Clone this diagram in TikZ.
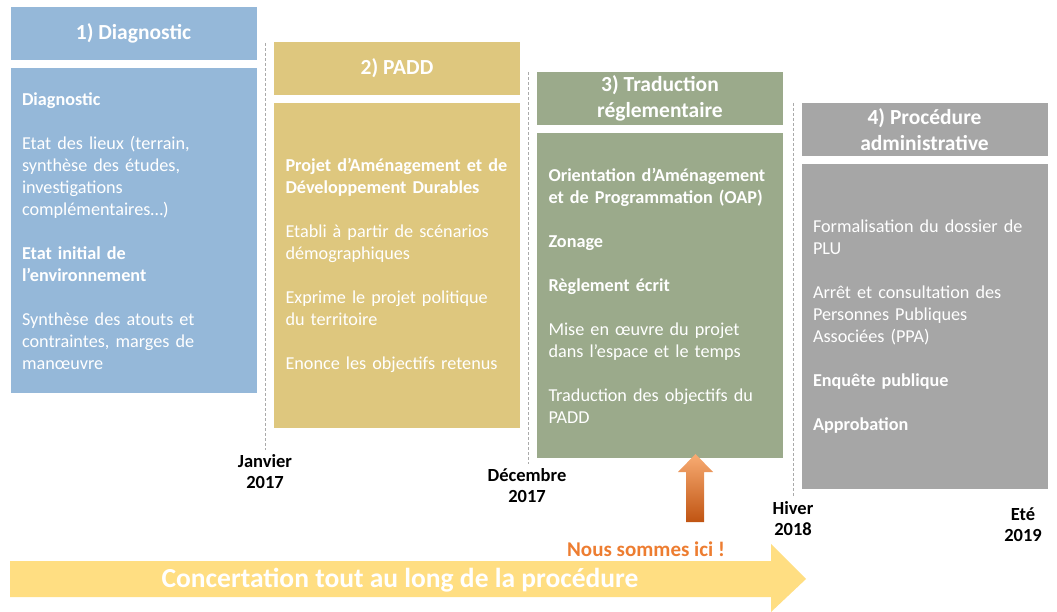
\documentclass[tikz,border=0pt]{standalone}
\usepackage{fontspec}
\setmainfont{Carlito}
\usetikzlibrary{positioning}

\definecolor{diagblue}{RGB}{149,184,217}
\definecolor{paddtan}{RGB}{222,199,126}
\definecolor{tradgreen}{RGB}{155,170,139}
\definecolor{procgray}{RGB}{166,166,166}
\definecolor{concyellow}{RGB}{255,222,130}
\definecolor{icitext}{RGB}{237,125,49}
\definecolor{flechehaut}{RGB}{248,172,115}
\definecolor{flechebas}{RGB}{192,84,18}
\definecolor{tiret}{RGB}{170,170,170}

\tikzset{
  hdr/.style={minimum width=246pt, minimum height=53pt, inner sep=0pt, text=white,
    align=center, font=\fontsize{21.5}{26}\selectfont\bfseries},
  body/.style={minimum width=246pt, minimum height=325pt, inner xsep=11.5pt, inner ysep=0pt,
    text width=223pt, text=white, align=left, font=\fontsize{18.2}{22}\selectfont},
  date/.style={align=center, inner sep=1pt, font=\fontsize{18.5}{21}\selectfont\bfseries},
  jalon/.style={draw=tiret, line width=0.75pt, dash pattern=on 3pt off 2pt}
}

\begin{document}
\begin{tikzpicture}[x=1pt,y=1pt,yscale=-1,xscale=1]
\useasboundingbox (0,0) rectangle (1057,612); %diagram 1057 x 612

%Dashed markers
	\coordinate (jtop1) at (265,43);
	\coordinate (jtop2) at (528,72);
	\coordinate (jtop3) at (793,103);

%Column 1
	\node[hdr, fill=diagblue] (hdiag) at (133.5,33.5) {1) Diagnostic};
	\node[body, fill=diagblue, below=8pt of hdiag] (bdiag) {\textbf{Diagnostic}\\[22pt]
	Etat des lieux (terrain,\\synthèse des études,\\investigations\\complémentaires…)\\[22pt]
	\textbf{Etat initial de}\\\textbf{l’environnement}\\[22pt]
	Synthèse des atouts et\\contraintes, marges de\\manœuvre};
%Column 2
	\node[hdr, fill=paddtan] (hpadd) at (397,68.5) {2) PADD};
	\node[body, fill=paddtan, below=8pt of hpadd] (bpadd) {\textbf{Projet d’Aménagement et de}\\\textbf{Développement Durables}\\[22pt]
	Etabli à partir de scénarios\\démographiques\\[22pt]
	Exprime le projet politique\\du territoire\\[22pt]
	Enonce les objectifs retenus};
%Column 3
	\node[hdr, fill=tradgreen] (htrad) at (660,98.5) {3) Traduction\\réglementaire};
	\node[body, fill=tradgreen, below=8pt of htrad] (btrad) {\textbf{Orientation d’Aménagement}\\\textbf{et de Programmation (OAP)}\\[22pt]
	\textbf{Zonage}\\[22pt]
	\textbf{Règlement écrit}\\[22pt]
	Mise en œuvre du projet\\dans l’espace et le temps\\[22pt]
	Traduction des objectifs du\\PADD};
%Column 4
	\node[hdr, fill=procgray] (hproc) at (924.5,129.5) {4) Procédure\\administrative};
	\node[body, fill=procgray, below=8pt of hproc] (bproc) {Formalisation du dossier de\\PLU\\[22pt]
	Arrêt et consultation des\\Personnes Publiques\\Associées (PPA)\\[22pt]
	\textbf{Enquête publique}\\[22pt]
	\textbf{Approbation}};

% Text Node dates
	\node[date] (janv) at (265,471.5) {Janvier\\2017};
	\node[date] (dece) at (527,485.5) {Décembre\\2017};
	\node[date] (hive) at (793,519) {Hiver\\2018};
	\node[date] (ete) at (1023,525) {Eté\\2019};

	\draw[jalon] (jtop1) -- ([yshift=-3pt]janv.north);
	\draw[jalon] (jtop2) -- ([yshift=-3pt]dece.north -| jtop2);
	\draw[jalon] (jtop3) -- ([yshift=-3pt]hive.north);

%Shape: Arrow (concertation)
	\fill[concyellow] (10,561) -- (771,561) -- (771,544) -- (806,579) -- (771,612) -- (771,597) -- (10,597) -- cycle;
	\node[text=white, font=\fontsize{27.5}{30}\selectfont\bfseries] (conc) at (400,580) {Concertation tout au long de la procédure};

%Shape: Arrow (nous sommes ici)
	\shade[top color=flechehaut, bottom color=flechebas] (686,522) -- (686,472) -- (678,472) -- (695.5,454) -- (713,472) -- (704,472) -- (704,522) -- cycle;
	\node[text=icitext, font=\fontsize{21}{24}\selectfont\bfseries] (ici) at (646,549) {Nous sommes ici !};

\end{tikzpicture}
\end{document}
